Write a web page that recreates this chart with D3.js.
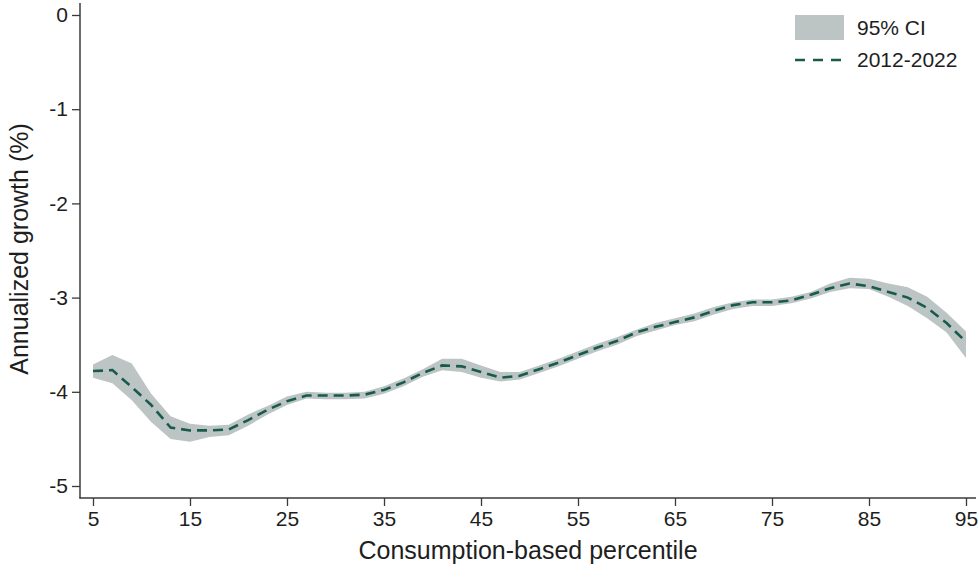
<!DOCTYPE html>
<html>
<head>
<meta charset="utf-8">
<script src="https://cdn.jsdelivr.net/npm/d3@7"></script>
<style>
  html, body { margin: 0; padding: 0; background: #fff; }
  svg { display: block; font-family: "Liberation Sans", Arial, sans-serif; }
</style>
</head>
<body>
<svg id="chart" width="980" height="565"></svg>
<script>
// ---- data ----
const percentiles = [5,7,9,11,13,15,17,19,21,23,25,27,29,31,33,35,37,39,41,43,45,47,49,51,53,55,57,59,61,63,65,67,69,71,73,75,77,79,81,83,85,87,89,91,93,95];
const growth = [-3.78,-3.77,-3.95,-4.14,-4.38,-4.41,-4.41,-4.40,-4.30,-4.19,-4.10,-4.04,-4.04,-4.04,-4.03,-3.98,-3.90,-3.80,-3.72,-3.73,-3.79,-3.85,-3.83,-3.76,-3.69,-3.61,-3.53,-3.46,-3.37,-3.31,-3.26,-3.21,-3.14,-3.08,-3.05,-3.05,-3.03,-2.97,-2.90,-2.85,-2.88,-2.94,-3.00,-3.11,-3.27,-3.47];
const ciLow = [-3.85,-3.91,-4.09,-4.32,-4.50,-4.53,-4.48,-4.46,-4.36,-4.24,-4.14,-4.07,-4.08,-4.08,-4.07,-4.02,-3.94,-3.84,-3.77,-3.79,-3.85,-3.89,-3.87,-3.80,-3.73,-3.65,-3.57,-3.50,-3.41,-3.35,-3.29,-3.25,-3.18,-3.12,-3.09,-3.09,-3.06,-3.01,-2.94,-2.90,-2.91,-2.99,-3.09,-3.22,-3.37,-3.64];
const ciHigh = [-3.71,-3.61,-3.70,-4.02,-4.26,-4.34,-4.36,-4.35,-4.24,-4.15,-4.05,-4.00,-4.01,-4.01,-4.00,-3.94,-3.86,-3.76,-3.65,-3.65,-3.72,-3.79,-3.79,-3.72,-3.65,-3.57,-3.49,-3.42,-3.34,-3.27,-3.22,-3.17,-3.10,-3.05,-3.02,-3.02,-2.99,-2.94,-2.85,-2.79,-2.80,-2.85,-2.89,-2.99,-3.16,-3.36];
const xTicks = [5,15,25,35,45,55,65,75,85,95];
const yTicks = [0,-1,-2,-3,-4,-5];
const legendLabels = ["95% CI", "2012-2022"];
const xTitle = "Consumption-based percentile";
const yTitle = "Annualized growth (%)";

// ---- drawing ----
const bandColor = "#bcc5c3";
const lineColor = "#185b4d";
const axisColor = "#3a3a3a";
const textColor = "#1e1e1e";

const svg = d3.select("#chart");
const x = d3.scaleLinear().domain([5, 95]).range([93, 966]);
const y = d3.scaleLinear().domain([-5, 0]).range([486, 15]);
const axisX0 = 80, axisY0 = 498;

const rows = percentiles.map((p, i) => ({p, g: growth[i], lo: ciLow[i], hi: ciHigh[i]}));

// CI band
svg.append("path")
  .datum(rows)
  .attr("fill", bandColor)
  .attr("d", d3.area().x(d => x(d.p)).y0(d => y(d.lo)).y1(d => y(d.hi)));

// estimate line
svg.append("path")
  .datum(rows)
  .attr("fill", "none")
  .attr("stroke", lineColor)
  .attr("stroke-width", 2.6)
  .attr("stroke-dasharray", "10,6")
  .attr("d", d3.line().x(d => x(d.p)).y(d => y(d.g)));

// Y axis
const gy = svg.append("g")
  .attr("transform", `translate(${axisX0},0)`)
  .call(d3.axisLeft(y).tickValues(yTicks).tickFormat(d => String(d)).tickSize(8).tickPadding(4));
gy.select(".domain").remove();
gy.selectAll(".tick line").attr("stroke", axisColor).attr("stroke-width", 1.3);
gy.selectAll(".tick text").attr("fill", textColor).style("font-size", "21px")
  .style("font-family", "'Liberation Sans', Arial, sans-serif");
svg.append("line").attr("x1", axisX0).attr("x2", axisX0).attr("y1", 3).attr("y2", axisY0 + 0.5)
  .attr("stroke", axisColor).attr("stroke-width", 1.5);

// X axis
const gx = svg.append("g")
  .attr("transform", `translate(0,${axisY0})`)
  .call(d3.axisBottom(x).tickValues(xTicks).tickFormat(d => String(d)).tickSize(8).tickPadding(5));
gx.select(".domain").remove();
gx.selectAll(".tick line").attr("stroke", axisColor).attr("stroke-width", 1.3);
gx.selectAll(".tick text").attr("fill", textColor).style("font-size", "21px")
  .style("font-family", "'Liberation Sans', Arial, sans-serif");
svg.append("line").attr("x1", axisX0 - 0.5).attr("x2", 976).attr("y1", axisY0).attr("y2", axisY0)
  .attr("stroke", axisColor).attr("stroke-width", 1.5);

// axis titles
svg.append("text")
  .attr("x", 528).attr("y", 559)
  .attr("text-anchor", "middle").attr("fill", textColor)
  .style("font-size", "25px").text(xTitle);
svg.append("text")
  .attr("transform", `translate(28,249) rotate(-90)`)
  .attr("text-anchor", "middle").attr("fill", textColor)
  .style("font-size", "25px").text(yTitle);

// legend
const lg = svg.append("g");
lg.append("rect").attr("x", 795).attr("y", 15).attr("width", 49).attr("height", 25).attr("fill", bandColor);
lg.append("line").attr("x1", 795).attr("x2", 845).attr("y1", 60).attr("y2", 60)
  .attr("stroke", lineColor).attr("stroke-width", 2.6).attr("stroke-dasharray", "10,8");
lg.append("text").attr("x", 857).attr("y", 35).attr("fill", textColor).style("font-size", "21px").text(legendLabels[0]);
lg.append("text").attr("x", 857).attr("y", 67).attr("fill", textColor).style("font-size", "21px").text(legendLabels[1]);
</script>
</body>
</html>
